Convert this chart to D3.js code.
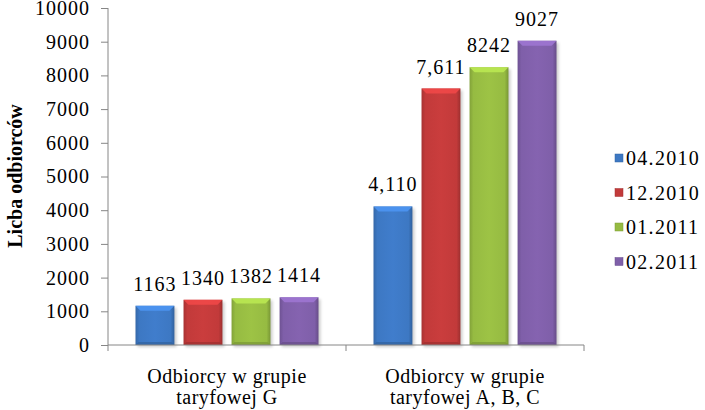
<!DOCTYPE html>
<html>
<head>
<meta charset="utf-8">
<script src="https://cdn.jsdelivr.net/npm/d3@7"></script>
<style>
  body { margin: 0; background: #fff; }
  svg text { font-family: "Liberation Serif", "Times New Roman", serif; fill: #000; }
</style>
</head>
<body>
<div id="viz"></div>
<script>
// categories and series
const categories = [["Odbiorcy w grupie", "taryfowej G"], ["Odbiorcy w grupie", "taryfowej A, B, C"]];
const seriesNames = ["04.2010", "12.2010", "01.2011", "02.2011"];
const seriesColors = ["#3d78c3", "#c23a3a", "#96bb42", "#7f5fa9"];
const valuesG = [1163, 1340, 1382, 1414];
const valuesABC = [4110, 7611, 8242, 9027];
const labelsG = ["1163", "1340", "1382", "1414"];
const labelsABC = ["4,110", "7,611", "8242", "9027"];
const yTicks = [0, 1000, 2000, 3000, 4000, 5000, 6000, 7000, 8000, 9000, 10000];

const serif = '"Liberation Serif", "Times New Roman", serif';
const width = 705, height = 410;
const svg = d3.select("#viz").append("svg")
    .attr("width", width)
    .attr("height", height);

const plot = { left: 108, right: 584, top: 8, bottom: 345 };

const x0 = d3.scaleBand()
    .domain([0, 1])
    .range([plot.left, plot.right]);

const x1 = d3.scaleBand()
    .domain(seriesNames)
    .range([27.5, x0.bandwidth() - 27.5])
    .paddingInner(0.19);

const y = d3.scaleLinear()
    .domain([0, 10000])
    .range([plot.bottom, plot.top]);

// gradients for the bevelled bars
const defs = svg.append("defs");
seriesColors.forEach((c, i) => {
    const base = d3.color(c);
    const g = defs.append("linearGradient")
        .attr("id", "grad" + i)
        .attr("x1", "0%").attr("x2", "100%");
    g.append("stop").attr("offset", "0%").attr("stop-color", base.darker(0.4));
    g.append("stop").attr("offset", "10%").attr("stop-color", base);
    g.append("stop").attr("offset", "50%").attr("stop-color", base.brighter(0.12));
    g.append("stop").attr("offset", "90%").attr("stop-color", base);
    g.append("stop").attr("offset", "100%").attr("stop-color", base.darker(0.6));
});
const blur = defs.append("filter").attr("id", "shadow")
    .attr("x", "-20%").attr("y", "-20%").attr("width", "140%").attr("height", "140%");
blur.append("feGaussianBlur").attr("stdDeviation", 1.5);

const groups = [
    { values: valuesG, labels: labelsG },
    { values: valuesABC, labels: labelsABC }
];

groups.forEach((grp, gi) => {
    const gx = x0(gi);
    const bars = svg.append("g").attr("transform", `translate(${gx},0)`);
    grp.values.forEach((v, i) => {
        const bx = x1(seriesNames[i]);
        const bw = x1.bandwidth();
        const top = y(v);
        const h = y(0) - top;
        // shadow
        bars.append("rect")
            .attr("x", bx + 2).attr("y", top + 2)
            .attr("width", bw).attr("height", h)
            .attr("fill", "#000").attr("opacity", 0.2)
            .attr("filter", "url(#shadow)");
        bars.append("rect")
            .attr("x", bx).attr("y", top)
            .attr("width", bw).attr("height", h)
            .attr("fill", `url(#grad${i})`);
        // top bevel
        const bev = 5;
        bars.append("path")
            .attr("d", `M${bx},${top} L${bx + bw},${top} L${bx + bw - bev},${top + bev} L${bx + bev},${top + bev} Z`)
            .attr("fill", d3.color(seriesColors[i]).brighter(0.6))
            .attr("opacity", 0.9);
        // bottom bevel
        const bb = 3;
        bars.append("path")
            .attr("d", `M${bx},${top + h} L${bx + bw},${top + h} L${bx + bw - bb},${top + h - bb} L${bx + bb},${top + h - bb} Z`)
            .attr("fill", d3.color(seriesColors[i]).darker(0.6))
            .attr("opacity", 0.7);
        bars.append("text")
            .attr("x", bx + bw / 2)
            .attr("y", top - 15)
            .attr("text-anchor", "middle")
            .style("font-family", serif)
            .style("font-size", "20px")
            .style("letter-spacing", "1px")
            .text(grp.labels[i]);
    });
});

// y axis
const yAxis = svg.append("g")
    .attr("transform", `translate(${plot.left},0)`)
    .call(d3.axisLeft(y).tickValues(yTicks).tickSize(7).tickPadding(11).tickFormat(d3.format("d")));
yAxis.select(".domain").attr("stroke", "#868686").attr("d", `M0,${plot.bottom}V${plot.top}`);
yAxis.selectAll(".tick line").attr("stroke", "#868686");
yAxis.selectAll(".tick text")
    .style("font-family", serif)
    .style("font-size", "20px")
    .style("letter-spacing", "1px")
    .attr("fill", "#000");

// x axis
const xAxis = svg.append("g")
    .attr("transform", `translate(0,${plot.bottom})`);
xAxis.append("line")
    .attr("x1", plot.left).attr("x2", plot.right)
    .attr("stroke", "#868686");
[x0(0), x0(1), x0(1) + x0.bandwidth()].forEach(t => {
    xAxis.append("line")
        .attr("x1", t).attr("x2", t)
        .attr("y1", 0).attr("y2", 6)
        .attr("stroke", "#868686");
});
categories.forEach((lines, i) => {
    const t = xAxis.append("text")
        .attr("x", x0(i) + x0.bandwidth() / 2)
        .attr("y", 38)
        .attr("text-anchor", "middle")
        .style("font-family", serif)
        .style("font-size", "20px")
        .style("letter-spacing", "0.5px");
    lines.forEach((l, li) => {
        t.append("tspan")
            .attr("x", x0(i) + x0.bandwidth() / 2)
            .attr("dy", li === 0 ? 0 : 21)
            .text(l);
    });
});

// y title
svg.append("text")
    .attr("transform", `translate(22,176) rotate(-90)`)
    .attr("text-anchor", "middle")
    .style("font-family", serif)
    .style("font-size", "20px")
    .style("font-weight", "bold")
    .text("Licba odbiorców");

// legend
const legend = svg.append("g").attr("transform", "translate(615,158)");
seriesNames.forEach((s, i) => {
    const row = legend.append("g").attr("transform", `translate(0,${i * 34.5})`);
    row.append("rect")
        .attr("x", 0).attr("y", -4)
        .attr("width", 8).attr("height", 8)
        .attr("fill", seriesColors[i])
        .attr("stroke", d3.color(seriesColors[i]).darker(0.5))
        .attr("stroke-width", 0.5);
    row.append("text")
        .attr("x", 11)
        .attr("y", 7)
        .style("font-family", serif)
        .style("font-size", "20px")
        .style("letter-spacing", "1.3px")
        .text(s);
});
</script>
</body>
</html>
